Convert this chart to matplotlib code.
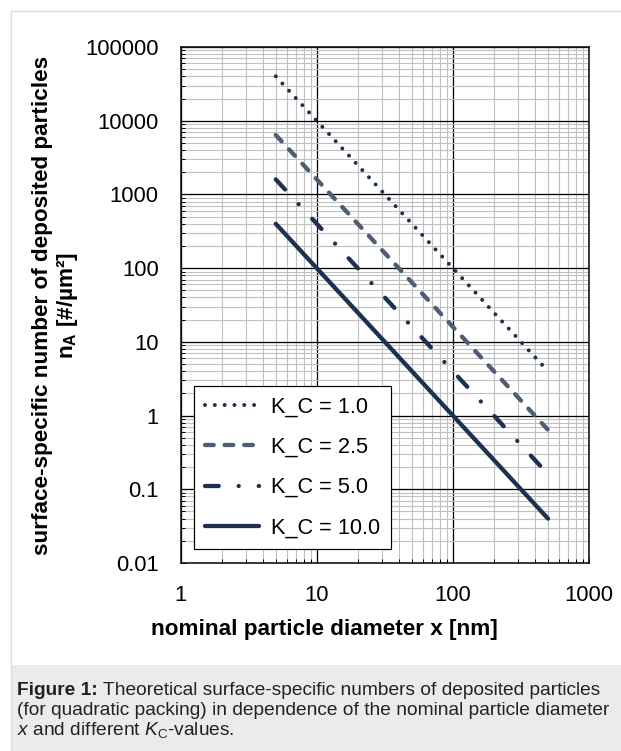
import matplotlib
matplotlib.use('Agg')
import matplotlib.pyplot as plt
from matplotlib.ticker import LogLocator, NullFormatter, FixedLocator, FixedFormatter
from matplotlib.lines import Line2D
from matplotlib.patches import Rectangle

# ---------------- data ----------------
diameter_nm = [5, 500]
n_kc_1_0 = [40000, 4]
n_kc_2_5 = [6400, 0.64]
n_kc_5_0 = [1600, 0.16]
n_kc_10_0 = [400, 0.04]
series_labels = ['K_C = 1.0', 'K_C = 2.5', 'K_C = 5.0', 'K_C = 10.0']
x_ticks = [1, 10, 100, 1000]
x_tick_labels = ['1', '10', '100', '1000']
y_ticks = [0.01, 0.1, 1, 10, 100, 1000, 10000, 100000]
y_tick_labels = ['0.01', '0.1', '1', '10', '100', '1000', '10000', '100000']

# ---------------- style ----------------
plt.rcParams['font.family'] = ['Liberation Sans', 'DejaVu Sans']
plt.rcParams['mathtext.fontset'] = 'custom'
plt.rcParams['mathtext.rm'] = 'Liberation Sans'
plt.rcParams['mathtext.it'] = 'Liberation Sans:italic'
plt.rcParams['mathtext.bf'] = 'Liberation Sans:bold'
plt.rcParams['lines.scale_dashes'] = False

W, H = 621, 751
PX = 0.72  # pixel -> point at dpi 100
fig = plt.figure(figsize=(W / 100, H / 100), dpi=100)

# outer frame and caption box
fig.add_artist(Rectangle((11 / W, 0), 1 - 11 / W, (751 - 665) / H, transform=fig.transFigure,
                         facecolor='#ebebeb', edgecolor='none', zorder=0))
fig.add_artist(Line2D([11 / W, 1], [1 - 11 / H, 1 - 11 / H], transform=fig.transFigure,
                      color='#dcdcdc', lw=1.3 * PX))
fig.add_artist(Line2D([11 / W, 11 / W], [0, 1 - 11 / H], transform=fig.transFigure,
                      color='#dcdcdc', lw=1.3 * PX))

ax = fig.add_axes([180.6 / W, 1 - 563 / H, 408.4 / W, (563 - 47) / H])
ax.set_xscale('log')
ax.set_yscale('log')
ax.set_xlim(1, 1000)
ax.set_ylim(0.01, 100000)

dark = '#1c3150'
slate = '#4d5d72'
lw = 4.3 * PX

ax.plot(diameter_nm, n_kc_1_0, color=dark, lw=4.0 * PX, linestyle=(0, (0.01, 9.8 * PX)),
        dash_capstyle='round', label=series_labels[0], zorder=3)
ax.plot(diameter_nm, n_kc_2_5, color=slate, lw=lw, linestyle=(0, (8.7 * PX, 10.9 * PX)),
        dash_capstyle='round', label=series_labels[1], zorder=3)
ax.plot(diameter_nm, n_kc_5_0, color=dark, lw=lw,
        linestyle=(0, (13.7 * PX, 20 * PX, 0.01, 20 * PX)),
        dash_capstyle='round', label=series_labels[2], zorder=3)
ax.plot(diameter_nm, n_kc_10_0, color=dark, lw=lw, solid_capstyle='round',
        label=series_labels[3], zorder=3)

ax.xaxis.set_major_locator(FixedLocator(x_ticks))
ax.xaxis.set_major_formatter(FixedFormatter(x_tick_labels))
ax.yaxis.set_major_locator(FixedLocator(y_ticks))
ax.yaxis.set_major_formatter(FixedFormatter(y_tick_labels))
ax.xaxis.set_minor_locator(LogLocator(base=10, subs=range(2, 10), numticks=100))
ax.yaxis.set_minor_locator(LogLocator(base=10, subs=range(2, 10), numticks=100))
ax.xaxis.set_minor_formatter(NullFormatter())
ax.yaxis.set_minor_formatter(NullFormatter())

ax.set_axisbelow(True)
ax.grid(which='minor', color='#c0c0c0', lw=1.1 * PX)
ax.grid(which='major', color='#000000', lw=1.3 * PX)
ax.tick_params(which='both', direction='in', top=False, right=False, color='black',
               width=1.0 * PX, labelsize=15.8, pad=15.8)
ax.tick_params(which='major', length=5 * PX)
ax.tick_params(which='minor', length=4 * PX)
for s in ax.spines.values():
    s.set_linewidth(1.6 * PX)
    s.set_color('#111111')

leg = ax.legend(loc='lower left', bbox_to_anchor=(0.0328, 0.0271), borderaxespad=0,
                fontsize=15.7, handlelength=2.49, handletextpad=0.54, borderpad=0.49,
                labelspacing=0.88, frameon=True, fancybox=False, edgecolor='black',
                framealpha=1)
leg.get_frame().set_linewidth(1.2 * PX)

# axis titles
fig.text(56 / W, 1 - 305 / H,
         "surface-specific number of deposited particles\n$\\mathbf{n_A}$ [#/µm²]",
         rotation=90, ha='center', va='center', fontsize=16.2, fontweight='bold',
         multialignment='center', linespacing=1.12)
fig.text(324 / W, 1 - 634.5 / H, "nominal particle diameter x [nm]", ha='center',
         va='baseline', fontsize=16.2, fontweight='bold')

# caption
cap_fs = 13.8
cap_color = '#222222'
y1 = 1 - 695 / H
t1 = fig.text(17 / W, y1, "Figure 1:", fontweight='bold', fontsize=cap_fs,
              va='baseline', color=cap_color)
r = fig.canvas.get_renderer()
bb = t1.get_window_extent(renderer=r)
fig.text((bb.x1 + 5.3) / W, y1, "Theoretical surface-specific numbers of deposited particles",
         fontsize=cap_fs, va='baseline', color=cap_color)
fig.text(17 / W, 1 - 715 / H,
         "(for quadratic packing) in dependence of the nominal particle diameter",
         fontsize=cap_fs, va='baseline', color=cap_color)
fig.text(17 / W, 1 - 735 / H, "$x$ and different $K_\\mathrm{C}$-values.",
         fontsize=cap_fs, va='baseline', color=cap_color)

fig.savefig('out.png', dpi=100)
